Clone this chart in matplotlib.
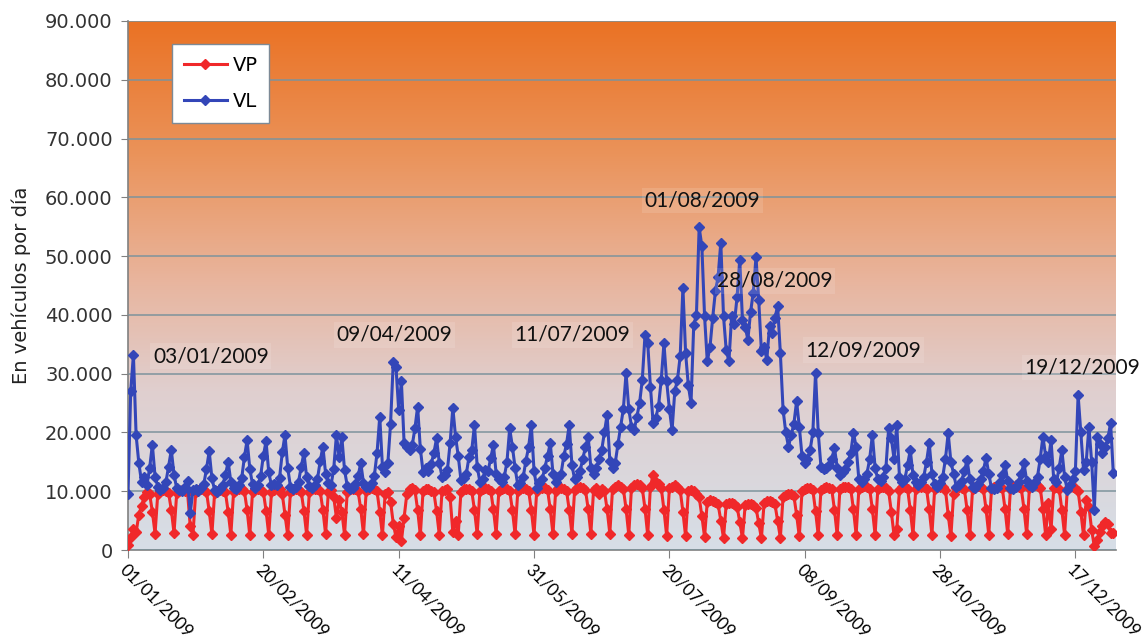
import numpy as np
import matplotlib
matplotlib.use("Agg")
import matplotlib.pyplot as plt
from matplotlib.colors import LinearSegmentedColormap
from matplotlib.ticker import FuncFormatter

# daily values 2009, in thousands of vehicles (rows: Thu-Sun 1-4 Jan, then Mon..Sun weeks)
vl = [
    9.5, 27.0, 33.2, 19.5,
    14.8, 11.6, 12.5, 11.0, 14.0, 17.9, 12.5,
    10.8, 10.2, 10.6, 11.5, 14.2, 17.0, 12.8,
    10.5, 10.2, 10.0, 10.8, 11.8, 6.3, 10.2,
    10.4, 10.0, 10.5, 11.2, 13.8, 16.8, 12.2,
    10.2, 9.8, 10.3, 11.0, 12.8, 15.0, 11.6,
    10.5, 10.4, 11.0, 12.2, 15.8, 18.7, 13.8,
    11.2, 10.6, 11.0, 12.6, 16.0, 18.5, 13.2,
    11.0, 11.3, 11.0, 12.3, 16.6, 19.6, 14.0,
    10.8, 10.4, 10.8, 11.6, 14.2, 16.5, 12.4,
    10.9, 10.6, 11.1, 12.1, 15.1, 17.6, 13.0,
    11.4, 11.0, 13.8, 19.6, 15.8, 19.2, 13.6,
    10.9, 10.3, 10.6, 11.2, 12.6, 14.8, 11.4,
    10.8, 10.7, 11.4, 12.6, 16.5, 22.7, 14.2,
    13.2, 14.8, 21.5, 32.0, 31.2, 23.8, 28.7,
    18.2, 17.6, 17.0, 17.8, 20.7, 24.4, 17.2,
    13.3, 14.0, 13.5, 14.6, 16.5, 19.0, 14.8,
    12.5, 12.8, 13.6, 18.2, 24.2, 19.3, 16.0,
    11.9, 12.3, 13.0, 15.9, 17.0, 21.3, 14.2,
    11.6, 12.0, 13.6, 13.4, 15.6, 17.9, 13.0,
    12.0, 11.5, 12.4, 15.0, 20.7, 17.6, 14.0,
    11.0, 11.4, 12.4, 15.2, 17.5, 21.3, 13.5,
    10.6, 11.4, 12.0, 14.0, 16.0, 18.2, 13.0,
    11.5, 12.4, 13.0, 16.0, 18.0, 21.3, 14.5,
    12.0, 12.5, 13.4, 15.5, 17.5, 19.3, 14.0,
    13.0, 14.0, 15.4, 17.0, 20.0, 23.0, 15.2,
    14.0, 14.8, 18.0, 21.0, 24.0, 30.1, 24.0,
    21.0, 20.4, 22.7, 25.0, 29.0, 36.6, 35.2,
    27.8, 21.6, 22.5, 24.5, 29.0, 35.2, 28.7,
    24.0, 20.4, 27.0, 29.0, 33.0, 44.6, 33.5,
    28.0, 25.0, 38.3, 40.0, 54.9, 51.7, 39.8,
    32.1, 34.5, 39.5, 44.0, 46.5, 52.3, 39.8,
    34.0, 32.1, 39.8, 38.5, 43.0, 49.4, 39.2,
    38.0, 35.8, 40.5, 43.8, 49.8, 42.6, 33.8,
    34.5, 32.4, 38.1, 37.0, 39.5, 41.5, 33.5,
    23.9, 20.0, 17.6, 19.5, 21.5, 25.3, 21.0,
    16.0, 14.8, 15.5, 17.0, 20.0, 30.1, 19.9,
    14.2, 13.8, 14.0, 14.5, 15.5, 17.4, 14.0,
    12.8, 13.2, 13.8, 15.0, 16.5, 19.9, 17.6,
    12.0, 11.6, 12.0, 13.0, 15.5, 19.6, 14.0,
    12.0, 11.8, 12.5, 14.0, 20.7, 19.0, 15.5,
    21.3, 12.5, 11.5, 12.0, 14.5, 17.0, 12.8,
    11.5, 11.0, 11.5, 12.5, 15.0, 18.2, 13.0,
    11.3, 10.8, 11.4, 12.5, 15.5, 19.9, 15.0,
    13.0, 10.8, 11.0, 11.8, 13.5, 15.3, 12.0,
    10.8, 10.5, 11.2, 12.0, 13.5, 15.7, 13.0,
    10.5, 10.3, 10.6, 11.5, 12.8, 14.5, 11.8,
    10.6, 10.4, 10.8, 11.6, 13.0, 14.8, 11.8,
    11.0, 10.8, 11.5, 12.5, 15.5, 19.3, 16.0,
    15.0, 18.7, 12.0, 11.5, 14.0, 17.0, 12.5,
    10.2, 11.0, 12.0, 13.5, 26.4, 20.0, 13.6,
    15.0, 21.0, 15.0, 6.8, 19.3, 18.0, 16.5,
    17.5, 19.0, 21.6, 13.1,
]

vp = [
    0.8, 2.2, 3.5, 3.0,
    6.0, 7.5, 9.0, 9.8, 9.5, 6.5, 2.8,
    9.6, 10.0, 10.2, 10.1, 9.7, 6.8, 2.9,
    9.7, 10.1, 10.2, 10.0, 9.8, 4.0, 2.6,
    9.8, 10.2, 10.3, 10.2, 9.9, 6.6, 2.7,
    9.7, 10.1, 10.2, 10.0, 9.8, 6.5, 2.6,
    9.8, 10.2, 10.4, 10.3, 10.0, 6.8, 2.5,
    9.9, 10.3, 10.4, 10.2, 9.9, 6.7, 2.6,
    9.8, 10.2, 10.3, 10.3, 9.5, 6.0, 2.5,
    9.8, 10.2, 10.3, 10.2, 9.9, 6.6, 2.6,
    9.9, 10.3, 10.4, 10.3, 10.0, 6.8, 2.7,
    9.8, 10.2, 9.0, 5.5, 8.5, 6.5, 2.6,
    9.9, 10.3, 10.4, 10.3, 10.0, 6.9, 2.7,
    10.0, 10.4, 10.5, 10.4, 10.0, 6.5, 2.5,
    9.6, 9.8, 8.2, 4.5, 2.2, 4.0, 1.5,
    5.5, 9.5, 10.3, 10.5, 10.2, 6.8, 2.5,
    10.0, 10.3, 10.4, 10.1, 9.8, 6.6, 2.6,
    10.0, 10.2, 10.3, 9.0, 3.0, 5.0, 2.6,
    9.9, 10.3, 10.4, 10.3, 10.0, 6.8, 2.7,
    10.0, 10.4, 10.5, 10.4, 10.1, 6.9, 2.8,
    10.0, 10.4, 10.5, 10.4, 10.1, 6.8, 2.7,
    10.0, 10.4, 10.5, 10.4, 10.1, 6.8, 2.6,
    10.1, 10.5, 10.6, 10.5, 10.2, 6.9, 2.7,
    10.1, 10.5, 10.6, 10.4, 10.1, 6.8, 2.8,
    10.2, 10.5, 10.7, 10.5, 10.2, 7.0, 2.8,
    10.2, 10.5, 9.6, 10.4, 10.1, 6.9, 2.8,
    10.4, 10.8, 11.0, 10.8, 10.4, 7.0, 2.6,
    10.6, 11.0, 11.2, 11.0, 10.5, 7.0, 2.5,
    10.8, 12.8, 11.5, 11.2, 10.6, 6.8, 2.4,
    10.5, 10.8, 11.0, 10.7, 10.2, 6.5, 2.3,
    10.0, 10.2, 10.0, 9.6, 9.0, 5.8, 2.2,
    8.2, 8.5, 8.4, 8.2, 7.8, 5.0, 2.0,
    7.8, 8.0, 8.0, 7.8, 7.4, 4.8, 2.0,
    7.6, 7.8, 7.9, 7.6, 7.2, 4.6, 2.0,
    8.0, 8.3, 8.4, 8.2, 7.8, 5.0, 2.1,
    9.0, 9.4, 9.6, 9.5, 9.2, 6.0, 2.3,
    10.0, 10.4, 10.6, 10.5, 10.2, 6.6, 2.5,
    10.2, 10.6, 10.8, 10.6, 10.3, 6.8, 2.5,
    10.3, 10.7, 10.8, 10.7, 10.4, 6.9, 2.6,
    10.3, 10.7, 10.9, 10.7, 10.4, 6.9, 2.6,
    10.3, 10.7, 10.8, 10.6, 10.0, 6.5, 2.5,
    3.5, 10.2, 10.7, 10.8, 10.4, 6.8, 2.6,
    10.3, 10.7, 10.8, 10.7, 10.4, 6.9, 2.6,
    10.3, 10.7, 10.8, 10.7, 10.2, 6.0, 2.3,
    9.5, 10.5, 10.7, 10.6, 10.3, 6.8, 2.6,
    10.3, 10.7, 10.9, 10.7, 10.4, 6.9, 2.6,
    10.3, 10.8, 10.9, 10.8, 10.5, 7.0, 2.7,
    10.4, 10.8, 11.0, 10.8, 10.5, 7.0, 2.7,
    10.5, 10.9, 11.0, 10.9, 10.6, 7.0, 2.6,
    8.0, 3.5, 10.5, 10.7, 10.4, 6.8, 2.6,
    10.3, 10.7, 10.8, 10.6, 10.0, 6.5, 2.5,
    8.5, 7.4, 3.4, 0.6, 1.7, 3.0, 4.0,
    4.8, 4.5, 2.9, 2.9,
]

tick_days = [0, 50, 100, 150, 200, 250, 300, 350]
tick_labels = ["01/01/2009", "20/02/2009", "11/04/2009", "31/05/2009",
               "20/07/2009", "08/09/2009", "28/10/2009", "17/12/2009"]

notes = ["03/01/2009", "09/04/2009", "11/07/2009", "01/08/2009",
         "28/08/2009", "12/09/2009", "19/12/2009"]
note_x = [9.2, 77.1, 142.8, 190.8, 217.7, 250.2, 331.1]
note_y = [33000, 36600, 36600, 59500, 45800, 34000, 31000]

days = np.arange(len(vl))
vl = np.array(vl) * 1000
vp = np.array(vp) * 1000

fig = plt.figure(figsize=(11.44, 6.41), dpi=100)
ax = fig.add_axes([128 / 1144, 1 - 550 / 641, 988 / 1144, 529 / 641])
ax.set_xlim(0, 365)
ax.set_ylim(0, 90000)

# gradient background of the plot area
cmap = LinearSegmentedColormap.from_list("bg", [
    (0.0, "#d6dee7"), (0.3, "#e0cfcf"), (0.5, "#e8b6a0"),
    (0.75, "#eb935a"), (1.0, "#ea7224")])
grad = np.linspace(0, 1, 256).reshape(-1, 1)
ax.imshow(grad, aspect="auto", cmap=cmap, origin="lower",
          extent=[0, 365, 0, 90000], zorder=0)

ax.set_yticks(np.arange(0, 90001, 10000))
ax.yaxis.set_major_formatter(FuncFormatter(lambda v, p: f"{int(v):,}".replace(",", ".")))
ax.grid(axis="y", color="#7d939c", lw=1.1, zorder=1)
ax.set_axisbelow(False)

ax.plot(days, vp, color="#f0282a", lw=2.2, marker="D", ms=5, zorder=3, label="VP")
ax.plot(days, vl, color="#3346b8", lw=2.2, marker="D", ms=5, zorder=4, label="VL")

ax.set_xticks(tick_days)
ax.set_xticklabels(tick_labels, rotation=-45, ha="left", va="top",
                   rotation_mode="anchor", family="Lato", fontsize=12.5)
ax.tick_params(axis="x", length=6, color="#808080", pad=2)
ax.tick_params(axis="y", length=5, color="#808080", labelsize=14, labelcolor="#333333", pad=6)
for s in ["top", "right"]:
    ax.spines[s].set_visible(False)
for s in ["left", "bottom"]:
    ax.spines[s].set_color("#808080")
    ax.spines[s].set_linewidth(1.2)

ax.set_ylabel("En vehículos por día", fontsize=14, color="#222222", labelpad=10)

for t, x, y in zip(notes, note_x, note_y):
    ax.text(x, y, t, ha="left", va="center", family="Lato", fontsize=15,
            color="#111111", zorder=5, clip_on=False,
            bbox=dict(facecolor="white", alpha=0.12, edgecolor="none", pad=2))

leg = ax.legend(loc="upper left", bbox_to_anchor=(0.035, 0.975), fontsize=14,
                handlelength=2.2, frameon=True, fancybox=False,
                borderpad=0.6, labelspacing=0.9, handletextpad=0.3)
leg.get_frame().set_edgecolor("#7d8a96")
leg.get_frame().set_facecolor("white")
leg.get_frame().set_alpha(1)

fig.savefig("out.png", dpi=100)
